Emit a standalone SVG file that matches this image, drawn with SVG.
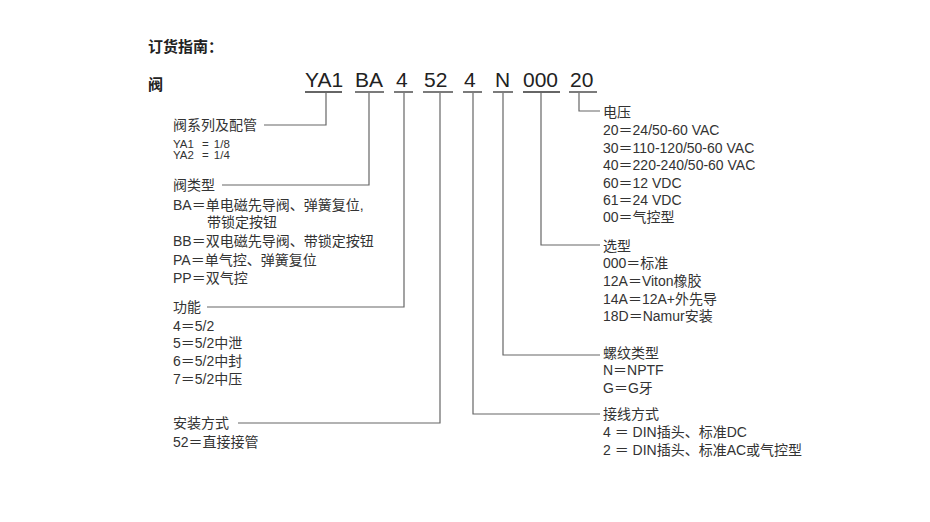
<svg xmlns="http://www.w3.org/2000/svg" width="930" height="522" viewBox="0 0 930 522">
<style>
text{font-family:"Liberation Sans","Noto Sans CJK SC",sans-serif;fill:#333}
.h{font-size:15px;font-weight:bold;fill:#222}
.c{font-size:21px;fill:#222}
.t{font-size:14px}
.s{font-size:11.5px}
.u{stroke:#333;stroke-width:1.3}
.l{fill:none;stroke:#666;stroke-width:1.2}
</style>
<rect width="930" height="522" fill="#fff"/>
<text class="h" x="148" y="52">订货指南：</text>
<text class="h" x="148" y="90">阀</text>
<g id="codes">
<text class="c" x="305" y="87">YA1</text><line class="u" x1="305" y1="92" x2="342" y2="92"/>
<text class="c" x="355" y="87">BA</text><line class="u" x1="355" y1="92" x2="384" y2="92"/>
<text class="c" x="396" y="87">4</text><line class="u" x1="394" y1="92" x2="413" y2="92"/>
<text class="c" x="424" y="87">52</text><line class="u" x1="423" y1="92" x2="453" y2="92"/>
<text class="c" x="464" y="87">4</text><line class="u" x1="463" y1="92" x2="482" y2="92"/>
<text class="c" x="495" y="87">N</text><line class="u" x1="493" y1="92" x2="513" y2="92"/>
<text class="c" x="523" y="87">000</text><line class="u" x1="523" y1="92" x2="560" y2="92"/>
<text class="c" x="570" y="87">20</text><line class="u" x1="569" y1="92" x2="597" y2="92"/>
</g>
<g id="connectors">
<path class="l" d="M326,93V125H264"/>
<path class="l" d="M369,93V185H222"/>
<path class="l" d="M404,93V307H207"/>
<path class="l" d="M440,93V423H238"/>
<path class="l" d="M473,93V414H600"/>
<path class="l" d="M503,93V355H600"/>
<path class="l" d="M541,93V245H600"/>
<path class="l" d="M579,93V111H600"/>
</g>
<g id="series">
<text class="t" x="173" y="130">阀系列及配管</text>
<text class="s" x="173" y="148">YA1  <tspan dx="5">=</tspan><tspan dx="5">1/8</tspan></text>
<text class="s" x="173" y="159">YA2  <tspan dx="5">=</tspan><tspan dx="5">1/4</tspan></text>
</g>
<g id="type">
<text class="t" x="173" y="190">阀类型</text>
<text class="t" x="173" y="210">BA＝单电磁先导阀、弹簧复位,</text>
<text class="t" x="207" y="227">带锁定按钮</text>
<text class="t" x="173" y="246">BB＝双电磁先导阀、带锁定按钮</text>
<text class="t" x="173" y="265">PA＝单气控、弹簧复位</text>
<text class="t" x="173" y="283">PP＝双气控</text>
</g>
<g id="function">
<text class="t" x="173" y="312">功能</text>
<text class="t" x="173" y="331">4＝5/2</text>
<text class="t" x="173" y="348">5＝5/2中泄</text>
<text class="t" x="173" y="366">6＝5/2中封</text>
<text class="t" x="173" y="384">7＝5/2中压</text>
</g>
<g id="mount">
<text class="t" x="173" y="428">安装方式</text>
<text class="t" x="173" y="447">52＝直接接管</text>
</g>
<g id="voltage">
<text class="t" x="603" y="117">电压</text>
<text class="t" x="603" y="135">20＝24/50-60 VAC</text>
<text class="t" x="603" y="153">30＝110-120/50-60 VAC</text>
<text class="t" x="603" y="170">40＝220-240/50-60 VAC</text>
<text class="t" x="603" y="188">60＝12 VDC</text>
<text class="t" x="603" y="205">61＝24 VDC</text>
<text class="t" x="603" y="222">00＝气控型</text>
</g>
<g id="option">
<text class="t" x="603" y="251">选型</text>
<text class="t" x="603" y="268">000＝标准</text>
<text class="t" x="603" y="286">12A＝Viton橡胶</text>
<text class="t" x="603" y="304">14A＝12A+外先导</text>
<text class="t" x="603" y="321">18D＝Namur安装</text>
</g>
<g id="thread">
<text class="t" x="603" y="358">螺纹类型</text>
<text class="t" x="603" y="375">N＝NPTF</text>
<text class="t" x="603" y="393">G＝G牙</text>
</g>
<g id="wiring">
<text class="t" x="603" y="419">接线方式</text>
<text class="t" x="603" y="437">4 ＝ DIN插头、标准DC</text>
<text class="t" x="603" y="455">2 ＝ DIN插头、标准AC或气控型</text>
</g>
</svg>
